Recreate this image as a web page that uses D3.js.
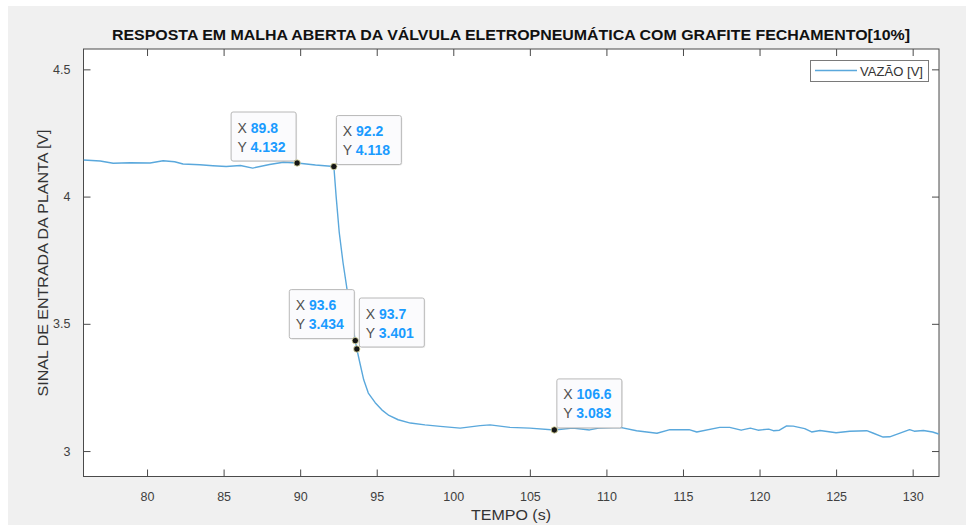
<!DOCTYPE html>
<html>
<head>
<meta charset="utf-8">
<script src="https://cdn.jsdelivr.net/npm/d3@7"></script>
<style>
  body { margin: 0; background: #fff; }
  svg { display: block; font-family: "Liberation Sans", Arial, sans-serif; }
</style>
</head>
<body>
<svg id="chart" width="974" height="528"></svg>
<script>
// Time axis (s)
const time = [75.85, 76.94, 77.79, 78.9, 80.2, 81.05, 81.8, 82.35, 83.45, 84.3, 85.17, 86.1, 86.9, 88.0, 88.9, 89.8,
  90.4, 91.0, 91.6, 92.2, 92.35, 92.55, 92.8, 93.1, 93.35, 93.6, 93.7, 93.9, 94.15, 94.45, 94.9, 95.33, 95.8, 96.4,
  97.2, 98.15, 99.15, 100.45, 101.75, 102.4, 103.7, 105.0, 106.6, 107.8, 108.9, 109.5, 110.9, 111.97, 113.3, 114.15,
  115.4, 115.9, 117.4, 118.05, 118.8, 119.4, 119.9, 120.6, 120.9, 121.3, 121.77, 122.2, 122.95, 123.4, 123.95, 125.0,
  125.9, 127.0, 127.4, 128.07, 128.5, 129.8, 130.1, 130.7, 131.3, 131.7];

// VAZÃO [V]
const vazao = [4.144, 4.140, 4.131, 4.133, 4.132, 4.141, 4.137, 4.128, 4.125, 4.121, 4.118, 4.122, 4.112, 4.126, 4.135, 4.132,
  4.128, 4.124, 4.121, 4.118, 4.0, 3.86, 3.74, 3.62, 3.52, 3.434, 3.401, 3.346, 3.28, 3.228, 3.19, 3.162, 3.14, 3.123,
  3.11, 3.103, 3.097, 3.090, 3.100, 3.103, 3.093, 3.090, 3.083, 3.090, 3.083, 3.090, 3.093, 3.080, 3.070, 3.084,
  3.084, 3.075, 3.093, 3.093, 3.082, 3.090, 3.082, 3.086, 3.080, 3.082, 3.099, 3.098, 3.088, 3.075, 3.081, 3.072,
  3.078, 3.080, 3.071, 3.055, 3.056, 3.084, 3.078, 3.081, 3.075, 3.067];

// Data tips
const tipX = [89.8, 92.2, 93.6, 93.7, 106.6];
const tipY = [4.132, 4.118, 3.434, 3.401, 3.083];
const tipSide = ['left', 'right', 'left', 'right', 'right'];

// Ticks
const xTicks = [80, 85, 90, 95, 100, 105, 110, 115, 120, 125, 130];
const yTicks = [3, 3.5, 4, 4.5];

const svg = d3.select('#chart');

// figure background
svg.append('rect').attr('x', 8).attr('y', 6).attr('width', 958).attr('height', 519).attr('fill', '#f0f0f0');

const L = 83.5, R = 939, T = 49, B = 476.5;

const x = d3.scaleLinear().domain([75.85, 131.72]).range([L, R]);
const y = d3.scaleLinear().domain([2.9, 4.58]).range([B, T]);

svg.append('rect').attr('x', L).attr('y', T).attr('width', R - L).attr('height', B - T).attr('fill', '#fff');

const axisColor = '#4a4a4a';
const tickLen = 7;

// bottom axis, ticks inward
const xAxis = svg.append('g').attr('transform', `translate(0,${B})`)
  .call(d3.axisBottom(x).tickValues(xTicks).tickSize(-tickLen).tickPadding(tickLen + 9).tickFormat(d3.format('d')));
const xTop = svg.append('g').attr('transform', `translate(0,${T})`)
  .call(d3.axisTop(x).tickValues(xTicks).tickSize(-tickLen).tickFormat(''));
const yAxis = svg.append('g').attr('transform', `translate(${L},0)`)
  .call(d3.axisLeft(y).tickValues(yTicks).tickSize(-tickLen).tickPadding(tickLen + 6).tickFormat(d => String(d)));
const yRight = svg.append('g').attr('transform', `translate(${R},0)`)
  .call(d3.axisRight(y).tickValues(yTicks).tickSize(-tickLen).tickFormat(''));

[xAxis, xTop, yAxis, yRight].forEach(g => {
  g.select('.domain').remove();
  g.selectAll('.tick line').attr('stroke', axisColor);
  g.selectAll('.tick text').attr('fill', '#404040').style('font-size', '12.5px').style('font-family', '"Liberation Sans", Arial, sans-serif');
});

svg.append('rect').attr('x', L).attr('y', T).attr('width', R - L).attr('height', B - T)
  .attr('fill', 'none').attr('stroke', axisColor).attr('stroke-width', 1);

// the curve
const clip = svg.append('clipPath').attr('id', 'clip');
clip.append('rect').attr('x', L).attr('y', T).attr('width', R - L).attr('height', B - T);

const line = d3.line().x(d => x(d[0])).y(d => y(d[1]));
svg.append('path')
  .datum(d3.zip(time, vazao))
  .attr('clip-path', 'url(#clip)')
  .attr('d', line)
  .attr('fill', 'none')
  .attr('stroke', '#5aa8dc')
  .attr('stroke-width', 1.4)
  .attr('stroke-linejoin', 'round');

// titles
svg.append('text').attr('x', 511).attr('y', 40).attr('text-anchor', 'middle')
  .attr('textLength', 798).attr('lengthAdjust', 'spacingAndGlyphs')
  .style('font-size', '15.5px').style('font-weight', 'bold').attr('fill', '#111')
  .text('RESPOSTA EM MALHA ABERTA DA VÁLVULA ELETROPNEUMÁTICA COM GRAFITE FECHAMENTO[10%]');

svg.append('text').attr('x', 511).attr('y', 520).attr('text-anchor', 'middle')
  .attr('textLength', 80).attr('lengthAdjust', 'spacingAndGlyphs')
  .style('font-size', '14.5px').attr('fill', '#333').text('TEMPO (s)');

svg.append('text').attr('transform', 'translate(48,263) rotate(-90)').attr('text-anchor', 'middle')
  .attr('textLength', 267).attr('lengthAdjust', 'spacingAndGlyphs')
  .style('font-size', '14.5px').attr('fill', '#333').text('SINAL DE ENTRADA DA PLANTA [V]');

// legend
const lg = svg.append('g');
lg.append('rect').attr('x', 810.5).attr('y', 60.5).attr('width', 118).attr('height', 21)
  .attr('fill', '#fff').attr('stroke', '#7a7a7a');
lg.append('line').attr('x1', 815).attr('x2', 857).attr('y1', 70.5).attr('y2', 70.5)
  .attr('stroke', '#5aa8dc').attr('stroke-width', 1.4);
lg.append('text').attr('x', 860).attr('y', 75.5).style('font-size', '13px').attr('fill', '#333')
  .attr('textLength', 63).attr('lengthAdjust', 'spacingAndGlyphs').text('VAZÃO [V]');

// data tips
const boxW = 65, boxH = 49;
tipX.forEach((tx, i) => {
  const mx = x(tx), my = y(tipY[i]);
  const bx = tipSide[i] === 'left' ? mx - 1.5 - boxW : mx + 2;
  const by = my - 2.5 - boxH;
  const g = svg.append('g');
  g.append('rect').attr('x', bx + 1.5).attr('y', by + 1.5).attr('width', boxW).attr('height', boxH)
    .attr('rx', 2).attr('fill', 'rgba(0,0,0,0.08)');
  g.append('rect').attr('x', bx + 0.5).attr('y', by + 0.5).attr('width', boxW).attr('height', boxH)
    .attr('rx', 2).attr('fill', '#fbfbfd').attr('stroke', '#b8b8b8');
  [['X', tx.toFixed(1)], ['Y', tipY[i].toFixed(3)]].forEach((row, j) => {
    const t = g.append('text').attr('x', bx + 7).attr('y', by + 21 + j * 19).style('font-size', '14px');
    t.append('tspan').attr('fill', '#505050').text(row[0] + ' ');
    t.append('tspan').attr('fill', '#1a9bff').style('font-weight', 'bold').text(row[1]);
  });
  g.append('circle').attr('cx', mx).attr('cy', my).attr('r', 3.2)
    .attr('fill', '#151515').attr('stroke', '#e6e3a6').attr('stroke-width', 0.8);
});
</script>
</body>
</html>
